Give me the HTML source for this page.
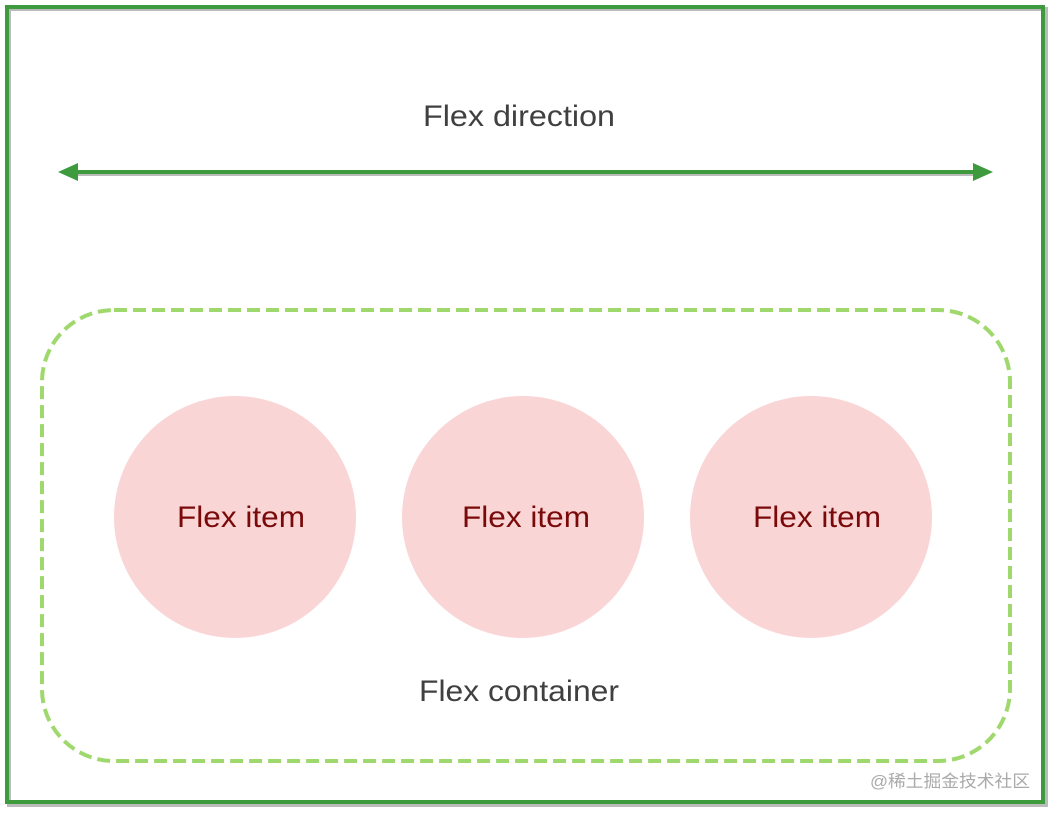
<!DOCTYPE html>
<html><head><meta charset="utf-8"><style>
html,body{margin:0;padding:0;background:#fff;}
svg{display:block}
text{font-family:"Liberation Sans","Noto Sans CJK SC",sans-serif;}
</style></head><body>
<svg width="1053" height="813" viewBox="0 0 1053 813" xmlns="http://www.w3.org/2000/svg">
<rect x="0" y="0" width="1053" height="813" fill="#fff"/>
<rect x="9" y="9" width="1037" height="796" fill="none" stroke="#bbb" stroke-width="4"/>
<rect x="7" y="7" width="1036" height="795" fill="none" stroke="#3d9a3d" stroke-width="4"/>
<text x="423" y="126" font-size="30" fill="#404040" textLength="192" lengthAdjust="spacingAndGlyphs">Flex direction</text>
<line x1="74" y1="174" x2="978" y2="174" stroke="#bbb" stroke-width="4"/>
<line x1="72" y1="172" x2="976" y2="172" stroke="#3d9a3d" stroke-width="4"/>
<polygon points="58,172 78,163 78,181" fill="#3d9a3d"/>
<polygon points="993,172 973,163 973,181" fill="#3d9a3d"/>
<rect x="42" y="310" width="968" height="451" rx="72" ry="72" fill="none" stroke="#9fd86c" stroke-width="4" stroke-dasharray="13,6"/>
<circle cx="235" cy="517" r="121" fill="#fad5d5"/>
<circle cx="523" cy="517" r="121" fill="#fad5d5"/>
<circle cx="811" cy="517" r="121" fill="#fad5d5"/>
<text x="177" y="527" font-size="30" fill="#7a0a0a" textLength="128" lengthAdjust="spacingAndGlyphs">Flex item</text>
<text x="462" y="527" font-size="30" fill="#7a0a0a" textLength="128" lengthAdjust="spacingAndGlyphs">Flex item</text>
<text x="753" y="527" font-size="30" fill="#7a0a0a" textLength="128" lengthAdjust="spacingAndGlyphs">Flex item</text>
<text x="419" y="701" font-size="30" fill="#404040" textLength="200" lengthAdjust="spacingAndGlyphs">Flex container</text>
<text x="870" y="787" font-size="17" fill="#aaa" textLength="160" lengthAdjust="spacingAndGlyphs">@稀土掘金技术社区</text>
</svg>
</body></html>
